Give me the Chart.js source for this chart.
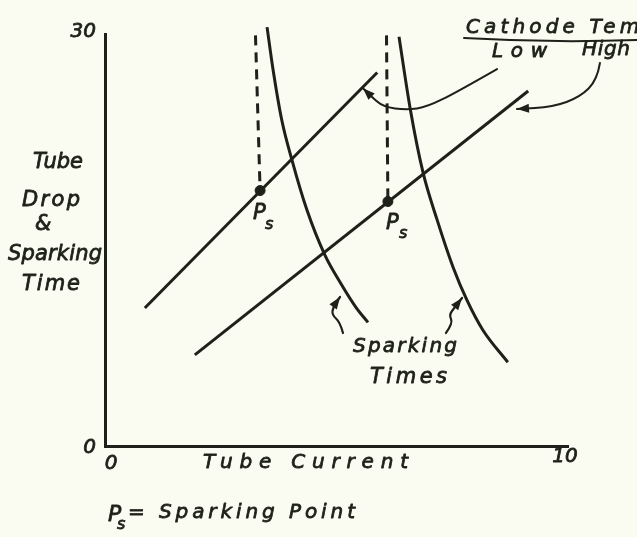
<!DOCTYPE html>
<html>
<head>
<meta charset="utf-8">
<script src="https://cdn.jsdelivr.net/npm/chart.js@4"></script>
<style>
  html, body { margin: 0; padding: 0; background: #fafbf1; }
  #wrap { width: 637px; height: 537px; }
</style>
</head>
<body>
<div id="wrap"><canvas id="chart" width="637" height="537"></canvas></div>
<script>
// axis ticks
const xTickValues = [0, 10];
const yTickValues = [0, 30];

// tube drop vs tube current, one line per cathode temperature
const lowTempLine = [{x: 0.86, y: 10.05}, {x: 5.88, y: 27.2}];
const highTempLine = [{x: 1.94, y: 6.63}, {x: 9.14, y: 25.85}];

// sparking time curves
const lowSparkCurve = [
  {x: 3.50, y: 30.5}, {x: 3.63, y: 27.4}, {x: 3.82, y: 23.7}, {x: 4.04, y: 20.8},
  {x: 4.36, y: 17.2}, {x: 4.75, y: 13.9}, {x: 5.10, y: 11.8}, {x: 5.42, y: 10.1},
  {x: 5.68, y: 9.0}
];
const highSparkCurve = [
  {x: 6.35, y: 29.8}, {x: 6.59, y: 24.6}, {x: 6.87, y: 19.9}, {x: 7.17, y: 16.5},
  {x: 7.52, y: 13.0}, {x: 7.82, y: 10.6}, {x: 8.16, y: 8.45}, {x: 8.70, y: 6.1}
];

// sparking points and the dashed drops to them
const sparkPoints = [{x: 3.35, y: 18.6}, {x: 6.11, y: 17.8}];
const lowDash = [{x: 3.25, y: 29.9}, sparkPoints[0]];
const highDash = [{x: 6.08, y: 29.9}, sparkPoints[1]];

// pointer arrows (data units, tail first)
const lowArrow = [[8.467, 27.45], [7.603, 25.78], [6.955, 24.69], [6.523, 24.47], [6.004, 24.69], [5.724, 25.55], [5.572, 26.05]];
const highArrow = [[10.69, 27.89], [10.63, 26.65], [10.26, 25.41], [9.676, 24.69], [8.898, 24.54]];
const lowSquiggle = [[5.14, 8.23], [5.076, 9.03], [4.903, 9.54], [4.924, 10.12], [5.076, 10.85]];
const highSquiggle = [[7.365, 8.23], [7.516, 8.96], [7.430, 9.54], [7.559, 10.12], [7.711, 10.78]];

const ink = '#1d2119';
const hand = '"DejaVu Sans", sans-serif';

function lineSet(data, extra) {
  return Object.assign({
    data: data,
    showLine: true,
    borderColor: ink,
    borderWidth: 3,
    pointRadius: 0,
    clip: false
  }, extra || {});
}

function handText(ctx, text, x, y, width, size) {
  ctx.font = 'italic ' + size + 'px ' + hand;
  ctx.letterSpacing = '0px';
  let w = ctx.measureText(text).width;
  let sp = text.length > 1 ? (width - w) / (text.length - 1) : 0;
  ctx.letterSpacing = sp + 'px';
  ctx.textAlign = 'left';
  ctx.textBaseline = 'alphabetic';
  ctx.lineWidth = 0.8;
  ctx.fillText(text, x, y);
  ctx.strokeText(text, x, y);
  ctx.letterSpacing = '0px';
}

function smoothPath(ctx, pts) {
  ctx.beginPath();
  ctx.moveTo(pts[0][0], pts[0][1]);
  for (let i = 1; i < pts.length - 1; i++) {
    const mx = (pts[i][0] + pts[i + 1][0]) / 2;
    const my = (pts[i][1] + pts[i + 1][1]) / 2;
    ctx.quadraticCurveTo(pts[i][0], pts[i][1], mx, my);
  }
  const last = pts[pts.length - 1];
  ctx.lineTo(last[0], last[1]);
  ctx.stroke();
}

function arrowHead(ctx, from, to, len, half) {
  const a = Math.atan2(to[1] - from[1], to[0] - from[0]);
  ctx.beginPath();
  ctx.moveTo(to[0], to[1]);
  ctx.lineTo(to[0] - len * Math.cos(a) + half * Math.sin(a), to[1] - len * Math.sin(a) - half * Math.cos(a));
  ctx.lineTo(to[0] - len * Math.cos(a) - half * Math.sin(a), to[1] - len * Math.sin(a) + half * Math.cos(a));
  ctx.closePath();
  ctx.fill();
}

const sketchPlugin = {
  id: 'sketch',
  beforeDraw(chart) {
    const ctx = chart.ctx;
    ctx.save();
    ctx.fillStyle = '#fafbf1';
    ctx.fillRect(0, 0, chart.width, chart.height);
    ctx.restore();
  },
  afterDraw(chart) {
    const ctx = chart.ctx;
    const xs = chart.scales.x, ys = chart.scales.y;
    ctx.save();
    ctx.fillStyle = ink;
    ctx.strokeStyle = ink;
    ctx.lineCap = 'round';
    ctx.lineJoin = 'round';

    // tick labels
    ctx.font = 'italic 20px ' + hand;
    ctx.lineWidth = 0.8;
    ctx.textAlign = 'right';
    ctx.textBaseline = 'middle';
    yTickValues.forEach(v => {
      const ty = ys.getPixelForValue(v) + (v === 0 ? 2 : -2);
      ctx.fillText(String(v), xs.left - 9, ty);
      ctx.strokeText(String(v), xs.left - 9, ty);
    });
    ctx.textAlign = 'center';
    xTickValues.forEach((v, i) => {
      const tx = xs.getPixelForValue(v) + (i === 0 ? 6 : -3);
      const ty = ys.bottom + (i === 0 ? 18 : 11);
      ctx.fillText(String(v), tx, ty);
      ctx.strokeText(String(v), tx, ty);
    });

    // axis titles
    handText(ctx, 'Tube', 33, 168, 50, 21);
    handText(ctx, 'Drop', 22, 206, 58, 21);
    handText(ctx, '&', 35, 230, 17, 21);
    handText(ctx, 'Sparking', 8, 260, 94, 21);
    handText(ctx, 'Time', 22, 290, 58, 21);
    handText(ctx, 'Tube Current', 203, 468, 205, 20);

    // footnote
    handText(ctx, 'P', 108, 521, 13, 22);
    handText(ctx, 's', 117, 529, 9, 16);
    handText(ctx, '= Sparking Point', 128, 518, 227, 20);

    // Ps labels
    const p0x = xs.getPixelForValue(sparkPoints[0].x), p0y = ys.getPixelForValue(sparkPoints[0].y);
    const p1x = xs.getPixelForValue(sparkPoints[1].x), p1y = ys.getPixelForValue(sparkPoints[1].y);
    handText(ctx, 'P', p0x - 7, p0y + 28, 12, 21);
    handText(ctx, 's', p0x + 5, p0y + 38, 8, 16);
    handText(ctx, 'P', p1x - 2, p1y + 27, 12, 21);
    handText(ctx, 's', p1x + 11, p1y + 36, 8, 16);

    // legend-ish notes
    handText(ctx, 'Cathode Temp', 466, 33, 190, 20);
    handText(ctx, 'Low', 492, 57, 55, 20);
    handText(ctx, 'High', 582, 55, 48, 20);
    handText(ctx, 'Sparking', 353, 352, 104, 20);
    handText(ctx, 'Times', 370, 383, 77, 21);

    ctx.lineWidth = 2;
    ctx.beginPath();
    ctx.moveTo(464, 38);
    ctx.quadraticCurveTo(550, 43, 637, 40);
    ctx.stroke();

    // arrows
    const toPx = arr => arr.map(p => [xs.getPixelForValue(p[0]), ys.getPixelForValue(p[1])]);
    [lowArrow, highArrow, lowSquiggle, highSquiggle].forEach((a, i) => {
      const pts = toPx(a);
      ctx.lineWidth = i < 2 ? 2 : 2.2;
      smoothPath(ctx, pts);
      arrowHead(ctx, pts[pts.length - 2], pts[pts.length - 1], 12, 4.5);
    });
    ctx.restore();
  }
};

new Chart(document.getElementById('chart'), {
  type: 'scatter',
  data: {
    datasets: [
      lineSet(lowTempLine),
      lineSet(highTempLine),
      lineSet(lowSparkCurve, {cubicInterpolationMode: 'monotone'}),
      lineSet(highSparkCurve, {cubicInterpolationMode: 'monotone'}),
      lineSet(lowDash, {borderDash: [10, 7], borderWidth: 3}),
      lineSet(highDash, {borderDash: [10, 7], borderWidth: 3}),
      {
        data: sparkPoints,
        showLine: false,
        pointRadius: 5,
        pointBackgroundColor: ink,
        pointBorderColor: ink,
        clip: false
      }
    ]
  },
  options: {
    responsive: false,
    animation: false,
    layout: {padding: {left: 105, right: 69, top: 34, bottom: 91}},
    scales: {
      x: {
        type: 'linear', min: 0, max: 10,
        ticks: {display: false},
        grid: {display: false, drawTicks: false},
        border: {display: true, color: ink, width: 3}
      },
      y: {
        type: 'linear', min: 0, max: 30,
        ticks: {display: false},
        grid: {display: false, drawTicks: false},
        border: {display: true, color: ink, width: 3}
      }
    },
    plugins: {
      legend: {display: false},
      tooltip: {enabled: false}
    }
  },
  plugins: [sketchPlugin]
});
</script>
</body>
</html>
